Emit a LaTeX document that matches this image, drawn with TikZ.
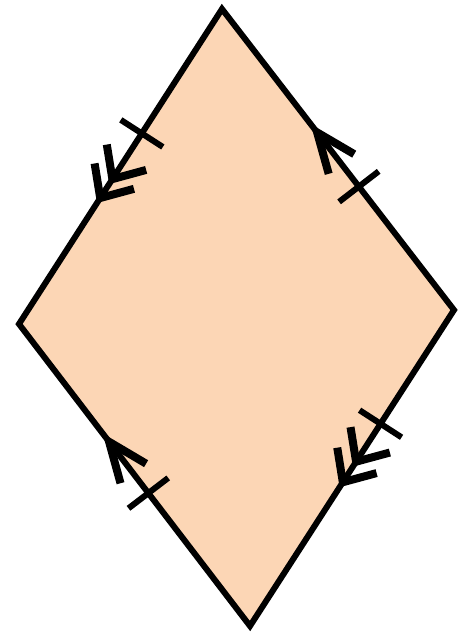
\documentclass[tikz,border=0pt]{standalone}
\usetikzlibrary{calc}
\definecolor{fillpeach}{RGB}{252,214,181}
\tikzset{
  outline/.style={draw=black,line width=6pt,line join=miter,fill=fillpeach},
  barb/.style={draw=black,line width=8pt,line join=miter,line cap=butt},
  tickmark/.style={draw=black,line width=6pt,line cap=butt}
}
% #1 fraction, #2 from, #3 toward (arrow points to #3), #4 barb length, #5 barb angle
\newcommand{\arrowhd}[5]{%
  \coordinate (tp) at ($(#2)!#1!(#3)$);
  \draw[barb] ($(tp)!#4!#5:(#2)$) -- (tp) -- ($(tp)!#4!-#5:(#2)$);
}
\newcommand{\tickat}[3]{%
  \coordinate (tc) at ($(#2)!#1!(#3)$);
  \draw[tickmark] ($(tc)!25pt!90:(#3)$) -- ($(tc)!25pt!-90:(#3)$);
}
\begin{document}
\begin{tikzpicture}[x=1pt,y=-1pt]
\useasboundingbox (0,0) rectangle (469,632);
\coordinate (T) at (222,9);
\coordinate (L) at (19,324);
\coordinate (R) at (454,310);
\coordinate (B) at (250,626);
\draw[outline] (T) -- (R) -- (B) -- (L) -- cycle;
% top-left edge: double arrow toward L
\arrowhd{0.54}{T}{L}{35pt}{42}
\arrowhd{0.60}{T}{L}{35pt}{42}
\tickat{0.395}{T}{L}
% top-right edge: single arrow toward T
\arrowhd{0.59}{R}{T}{43pt}{22}
\tickat{0.59}{T}{R}
% right-bottom edge: double arrow toward B
\arrowhd{0.48}{R}{B}{35pt}{42}
\arrowhd{0.545}{R}{B}{35pt}{42}
\tickat{0.36}{R}{B}
% left-bottom edge: single arrow toward L
\arrowhd{0.61}{B}{L}{43pt}{22}
\tickat{0.56}{L}{B}
\end{tikzpicture}
\end{document}
